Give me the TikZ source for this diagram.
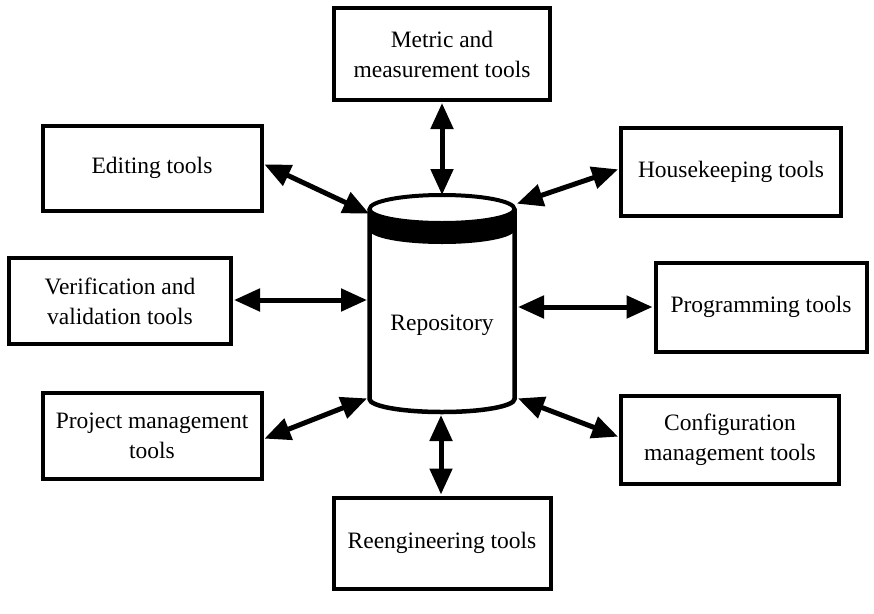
\documentclass[tikz,border=0pt]{standalone}
\usepackage{fontspec}
\setmainfont{Liberation Serif}
\usetikzlibrary{arrows.meta}
\begin{document}
\begin{tikzpicture}[x=1pt,y=-1pt,
  tool/.style={draw, line width=4pt, align=center, inner sep=0pt,
    font=\fontsize{23.5}{30}\selectfont},
  link/.style={line width=5pt, {Triangle[length=26pt,width=22pt]}-{Triangle[length=26pt,width=22pt]}, shorten <=1pt, shorten >=1pt}]
\useasboundingbox (0,0) rectangle (874,613);
\fill[white] (0,0) rectangle (874,613);
% boxes
\node[tool, minimum width=216pt, minimum height=92pt] (metric) at (442,54) {Metric and\\measurement tools};
\node[tool, minimum width=219pt, minimum height=85pt] (edit) at (152,168) {Editing tools};
\node[tool, minimum width=220pt, minimum height=88pt] (house) at (731,172) {Housekeeping tools};
\node[tool, minimum width=222pt, minimum height=86pt] (verif) at (120,301) {Verification and\\validation tools};
\node[tool, minimum width=211pt, minimum height=89pt] (prog) at (761,307) {Programming tools};
\node[tool, minimum width=219pt, minimum height=86pt] (proj) at (152,436) {Project management\\tools};
\node[tool, minimum width=218pt, minimum height=88pt] (conf) at (730,440) {Configuration\\management tools};
\node[tool, minimum width=217pt, minimum height=91pt] (reeng) at (442,543) {Reengineering tools};
% repository cylinder
\coordinate (cl) at (369.5,209);
\coordinate (cr) at (514.5,209);
\fill[black] (cl) arc[start angle=180, end angle=0, x radius=72.5, y radius=14]
  -- ++(0,21) arc[start angle=0, end angle=180, x radius=72.5, y radius=14] -- cycle;
\draw[line width=4pt] (442,209) ellipse[x radius=72.5, y radius=14];
\draw[line width=4.5pt] (cl) -- (369.5,399) arc[start angle=180, end angle=0, x radius=72.5, y radius=13] -- (cr);
\node[font=\fontsize{23.5}{30}\selectfont] (repo) at (442,325) {Repository};
% attachment points on the repository
\coordinate (rT) at (442,196);
\coordinate (rB) at (441,414);
\coordinate (rTL) at (370,214);
\coordinate (rTR) at (516,204);
\coordinate (rL) at (368,300);
\coordinate (rR) at (517,307);
\coordinate (rBL) at (368,398);
\coordinate (rBR) at (517,398);
% connectors
\draw[link] (metric.south -| rT) -- (rT);
\draw[link] ([yshift=4pt]edit.east) -- (rTL);
\draw[link] ([yshift=3pt]house.west) -- (rTR);
\draw[link] (verif.east |- rL) -- (rL);
\draw[link] (rR) -- (prog.west |- rR);
\draw[link] ([yshift=-3pt]proj.east) -- (rBL);
\draw[link] (rBR) -- ([yshift=3pt]conf.west);
\draw[link] (rB) -- (reeng.north -| rB);
\end{tikzpicture}
\end{document}
